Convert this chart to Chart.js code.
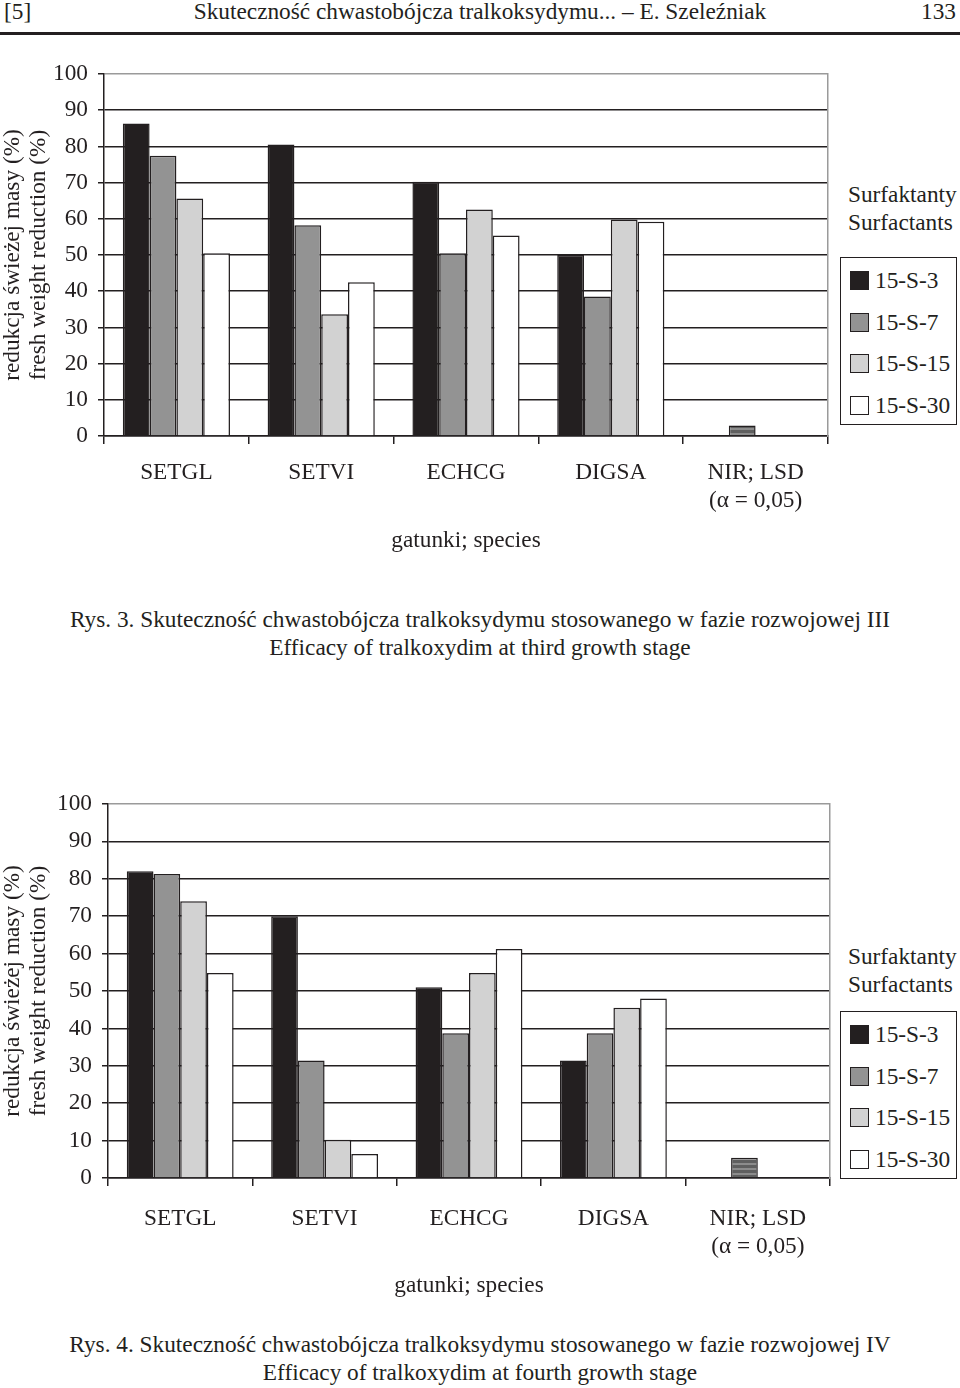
<!DOCTYPE html>
<html>
<head>
<meta charset="utf-8">
<script src="https://cdn.jsdelivr.net/npm/chart.js@4.4.1/dist/chart.umd.min.js"></script>
<style>
  body { margin: 0; width: 960px; height: 1388px; background: #fff; position: relative; overflow: hidden;
         font-family: "Liberation Serif", "Times New Roman", serif; color: #231f20; }
  .t { position: absolute; white-space: nowrap; font-size: 23.3px; line-height: 23px; }
  .c { left: 0; width: 960px; text-align: center; }
  .rule { position: absolute; left: 0; width: 960px; top: 32px; height: 3px; background: #231f20; }
  .box { position: absolute; border: 1.5px solid #231f20; width: 115px; }
  .item { position: absolute; left: 9px; font-size: 23.3px; line-height: 23px; white-space: nowrap; }
  .sw { display: inline-block; width: 17px; height: 17px; border: 1px solid #231f20; vertical-align: -2px; margin-right: 6px; }
  .wrap { position: absolute; left: 0; }
</style>
</head>
<body>
<div class="t" style="left:4px;top:0px">[5]</div>
<div class="t c" style="top:0px">Skuteczność chwastobójcza tralkoksydymu... – E. Szeleźniak</div>
<div class="t" style="right:4px;top:0px">133</div>
<div class="rule"></div>

<div class="wrap" style="top:50px;width:835px;height:510px"><canvas id="chart3"></canvas></div>
<div class="t" style="left:848px;top:183px">Surfaktanty</div>
<div class="t" style="left:848px;top:211px">Surfactants</div>
<div class="box" id="legend3" style="left:840px;top:257px;height:166px"></div>
<div class="t c" style="top:608px">Rys. 3. Skuteczność chwastobójcza tralkoksydymu stosowanego w fazie rozwojowej III</div>
<div class="t c" style="top:636px">Efficacy of tralkoxydim at third growth stage</div>

<div class="wrap" style="top:780px;width:837px;height:520px"><canvas id="chart4"></canvas></div>
<div class="t" style="left:848px;top:945px">Surfaktanty</div>
<div class="t" style="left:848px;top:973px">Surfactants</div>
<div class="box" id="legend4" style="left:840px;top:1011px;height:166px"></div>
<div class="t c" style="top:1333px">Rys. 4. Skuteczność chwastobójcza tralkoksydymu stosowanego w fazie rozwojowej IV</div>
<div class="t c" style="top:1361px">Efficacy of tralkoxydim at fourth growth stage</div>

<script>
// dane
const species = ['SETGL', 'SETVI', 'ECHCG', 'DIGSA', ['NIR; LSD', '(α = 0,05)']];
const surfactants = ['15-S-3', '15-S-7', '15-S-15', '15-S-30'];
const colors = ['#231f20', '#939393', '#d2d2d2', '#ffffff'];
const yTickStep = 10;

// Rys. 3 - faza III
const stage3_s3  = [86.3, 80.5, 70.2, 50.1];
const stage3_s7  = [77.4, 58.2, 50.5, 38.5];
const stage3_s15 = [65.6, 33.6, 62.6, 59.8];
const stage3_s30 = [50.5, 42.5, 55.4, 59.2];
const stage3_lsd = 2.9;

// Rys. 4 - faza IV
const stage4_s3  = [82.0, 70.0, 51.0, 31.4];
const stage4_s7  = [81.3, 31.4, 38.7, 38.7];
const stage4_s15 = [74.0, 10.2, 54.8, 45.5];
const stage4_s30 = [54.8, 6.4, 61.2, 48.0];
const stage4_lsd = 5.4;

const ink = '#231f20';
const font = { family: '"Liberation Serif", "Times New Roman", serif', size: 23.3 };

// paskowany wzor dla slupka NIR
function lsdPattern() {
    const c = document.createElement('canvas');
    c.width = 4; c.height = 5;
    const g = c.getContext('2d');
    g.fillStyle = '#5f5f5f'; g.fillRect(0, 0, 4, 5);
    g.fillStyle = '#8c8c8c'; g.fillRect(0, 3, 4, 2);
    return g.createPattern(c, 'repeat');
}

function makeChart(id, series, lsd, opt) {
    const datasets = series.map((vals, i) => {
        const data = vals.concat([i === 1 ? lsd : null]);
        return {
            label: surfactants[i],
            data: data,
            backgroundColor: data.map((v, j) => (j === 4 ? lsdPattern() : colors[i])),
            borderColor: ink,
            borderWidth: 1.5
        };
    });
    new Chart(document.getElementById(id), {
        type: 'bar',
        data: { labels: species, datasets: datasets },
        options: {
            responsive: true,
            maintainAspectRatio: false,
            animation: false,
            categoryPercentage: 0.74,
            barPercentage: 1.0,
            layout: { padding: { top: 12, right: opt.padRight, left: 0, bottom: 0 } },
            plugins: { legend: { display: false }, tooltip: { enabled: false } },
            scales: {
                x: {
                    grid: { drawOnChartArea: false, drawTicks: true, tickLength: 8, color: ink, lineWidth: 1.5 },
                    border: { color: ink, width: 1.5 },
                    ticks: { color: ink, font: Object.assign({ lineHeight: 1.2 }, font), padding: opt.tickPad, maxRotation: 0, autoSkip: false },
                    title: { display: true, text: 'gatunki; species', color: ink, font: font, padding: { top: 0, bottom: opt.titlePad } },
                    afterFit: s => { s.height = opt.xHeight; }
                },
                y: {
                    min: 0,
                    max: 100,
                    ticks: { stepSize: yTickStep, color: ink, font: font, padding: 10 },
                    grid: {
                        color: c => (c.tick && c.tick.value === 100 ? '#9a9a9a' : ink),
                        tickColor: ink,
                        lineWidth: 1.5,
                        tickLength: 6
                    },
                    border: { color: ink, width: 1.5 },
                    title: {
                        display: true,
                        text: ['redukcja świeżej masy (%)', 'fresh weight reduction (%)'],
                        color: ink,
                        font: Object.assign({ lineHeight: 1.12 }, font),
                        padding: 0
                    },
                    afterFit: s => { s.width = opt.yWidth; }
                },
                yR: {
                    position: 'right',
                    min: 0,
                    max: 100,
                    ticks: { display: false },
                    grid: { display: false },
                    border: { color: '#9a9a9a', width: 1.5 },
                    afterFit: s => { s.width = 0; }
                }
            }
        }
    });
}

function makeLegend(id) {
    const box = document.getElementById(id);
    surfactants.forEach((name, i) => {
        const el = document.createElement('div');
        el.className = 'item';
        el.style.top = (11 + i * 41.5) + 'px';
        el.innerHTML = '<span class="sw" style="background:' + colors[i] + '"></span>' + name;
        box.appendChild(el);
    });
}

makeChart('chart3', [stage3_s3, stage3_s7, stage3_s15, stage3_s30], stage3_lsd,
    { padRight: 7, xHeight: 124, yWidth: 104, titlePad: 5, tickPad: 15 });
makeChart('chart4', [stage4_s3, stage4_s7, stage4_s15, stage4_s30], stage4_lsd,
    { padRight: 7, xHeight: 122, yWidth: 108, titlePad: 0, tickPad: 19 });
makeLegend('legend3');
makeLegend('legend4');
</script>
</body>
</html>
